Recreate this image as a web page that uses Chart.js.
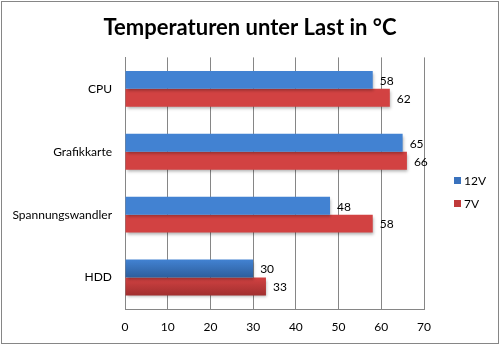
<!DOCTYPE html>
<html>
<head>
<meta charset="utf-8">
<script src="https://cdn.jsdelivr.net/npm/chart.js@4"></script>
<style>
  html, body { margin: 0; padding: 0; background: #fff; }
  #wrap { width: 500px; height: 345px; position: relative; }
</style>
</head>
<body>
<div id="wrap"><canvas id="tempChart"></canvas></div>
<script>
const categories = ['CPU', 'Grafikkarte', 'Spannungswandler', 'HDD'];
const values12V = [58, 65, 48, 30];
const values7V = [62, 66, 58, 33];
const xTicks = [0, 10, 20, 30, 40, 50, 60, 70];
const seriesNames = ['12V', '7V'];

const font = "Lato, 'Open Sans', sans-serif";
// top/bottom colour of each series' bar gradient, and legend swatch colour
const gradTop = ['#4282d2', '#d24242'];
const gradBottom = ['#2d5e9c', '#a12f2f'];
const swatch = ['#3a72bd', '#c03a3a'];

// frame round the whole chart
const framePlugin = {
    id: 'frame',
    afterDraw(chart) {
        const c = chart.ctx;
        c.save();
        c.strokeStyle = '#868686';
        c.lineWidth = 1;
        c.strokeRect(1.5, 1.5, chart.width - 3, chart.height - 3);
        c.restore();
    }
};

// vertical gradient per bar + soft shadow
const barLook = {
    id: 'barLook',
    beforeDatasetsDraw(chart) {
        const c = chart.ctx;
        chart.data.datasets.forEach((ds, i) => {
            chart.getDatasetMeta(i).data.forEach(bar => {
                const h = bar.height;
                const g = c.createLinearGradient(0, bar.y - h / 2, 0, bar.y + h / 2);
                g.addColorStop(0, gradTop[i]);
                g.addColorStop(1, gradBottom[i]);
                bar.options.backgroundColor = g;
            });
        });
        c.save();
        c.shadowColor = 'rgba(0,0,0,0.3)';
        c.shadowBlur = 3;
        c.shadowOffsetX = 1;
        c.shadowOffsetY = 2;
    },
    afterDatasetsDraw(chart) {
        chart.ctx.restore();
    }
};

// value next to each bar end
const valueLabels = {
    id: 'valueLabels',
    afterDatasetsDraw(chart) {
        const c = chart.ctx;
        c.save();
        c.fillStyle = '#000';
        c.font = "12px " + font;
        c.textAlign = 'left';
        c.textBaseline = 'middle';
        chart.data.datasets.forEach((ds, i) => {
            chart.getDatasetMeta(i).data.forEach((bar, j) => {
                c.fillText(ds.data[j], bar.x + 7, bar.y + 1);
            });
        });
        c.restore();
    }
};

// legend in the strip right of the plot
const sideLegend = {
    id: 'sideLegend',
    afterDraw(chart) {
        const c = chart.ctx;
        const x0 = chart.chartArea.right + 30;
        c.save();
        c.font = "12px " + font;
        c.textBaseline = 'middle';
        chart.data.datasets.forEach((ds, i) => {
            const y = 181 + i * 23;
            c.fillStyle = swatch[i];
            c.fillRect(x0, y - 4, 7, 7);
            c.fillStyle = '#000';
            c.fillText(ds.label, x0 + 10, y);
        });
        c.restore();
    }
};

new Chart(document.getElementById('tempChart'), {
    type: 'bar',
    data: {
        labels: categories,
        datasets: [{
            label: seriesNames[0],
            data: values12V,
            backgroundColor: gradTop[0],
            borderWidth: 0
        }, {
            label: seriesNames[1],
            data: values7V,
            backgroundColor: gradTop[1],
            borderWidth: 0
        }]
    },
    options: {
        indexAxis: 'y',
        responsive: true,
        maintainAspectRatio: false,
        animation: false,
        datasets: { bar: { barPercentage: 1, categoryPercentage: 0.57 } },
        layout: { padding: 0 },
        plugins: {
            title: {
                display: true,
                text: 'Temperaturen unter Last in °C',
                color: '#000',
                font: { family: font, size: 22, weight: 'bold' },
                padding: { top: 15, bottom: 16 }
            },
            legend: { display: false },
            tooltip: { enabled: false }
        },
        scales: {
            x: {
                min: 0,
                max: 70,
                afterBuildTicks(scale) {
                    scale.ticks = xTicks.map(v => ({ value: v }));
                },
                afterFit(scale) { scale.height = 36; },
                grid: { color: '#868686', drawTicks: false },
                border: { color: '#868686' },
                ticks: { color: '#000', font: { family: font, size: 12 }, padding: 11 }
            },
            y: {
                afterFit(scale) { scale.width = 125; },
                grid: { display: false, drawTicks: false },
                border: { color: '#868686' },
                ticks: { color: '#000', font: { family: font, size: 12 }, padding: 13 }
            },
            // empty axis that only keeps the strip for the legend free
            legendSpace: {
                type: 'category',
                position: 'right',
                afterFit(scale) { scale.width = 76; },
                grid: { display: false, drawTicks: false },
                border: { display: false },
                ticks: { display: false }
            }
        }
    },
    plugins: [framePlugin, barLook, valueLabels, sideLegend]
});
</script>
</body>
</html>
